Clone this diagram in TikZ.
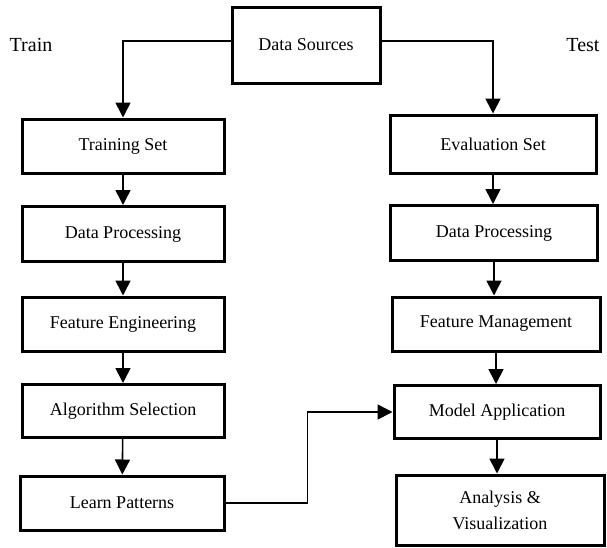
\documentclass[tikz,border=0pt]{standalone}
\usepackage{fontspec}
\setmainfont{Liberation Serif}
\usetikzlibrary{arrows.meta}

\tikzset{
  stage/.style={draw, line width=3pt, align=center, inner sep=2pt,
    font=\fontsize{18}{26}\selectfont},
  flow/.style={line width=1.6pt, -{Triangle[length=15pt,width=15pt]}},
  side/.style={font=\fontsize{20}{22}\selectfont},
}

\begin{document}
\begin{tikzpicture}[x=1pt,y=-1pt]
\useasboundingbox (0,0) rectangle (607,547);

% source and side labels
\node [stage, minimum width=148pt, minimum height=76pt] (src) at (306,45) {Data Sources};
\node [side] (train) at (31,45) {Train};
\node [side] (test) at (583,45) {Test};

% training column
\node [stage, minimum width=202pt, minimum height=54pt] (ts) at (123,146) {Training Set};
\node [stage, minimum width=202pt, minimum height=55pt] (dpl) at (123,234) {Data Processing};
\node [stage, minimum width=202pt, minimum height=54pt] (fe) at (123,324) {Feature Engineering};
\node [stage, minimum width=202pt, minimum height=53pt] (as) at (123,411) {Algorithm Selection};
\node [stage, minimum width=204pt, minimum height=54pt] (lp) at (122,503) {Learn Patterns};

% test column
\node [stage, minimum width=206pt, minimum height=58pt] (es) at (493,144) {Evaluation Set};
\node [stage, minimum width=207pt, minimum height=55pt] (dpr) at (494,233) {Data Processing};
\node [stage, minimum width=208pt, minimum height=54pt] (fm) at (496,324) {Feature Management};
\node [stage, minimum width=206pt, minimum height=53pt] (ma) at (497,412) {Model Application};
\node [stage, minimum width=208pt, minimum height=70pt] (av) at (500,510) {Analysis \&\\ Visualization};

\draw [flow] ([yshift=4pt]src.west) -| (ts.north);
\draw [flow] ([yshift=4pt]src.east) -| (es.north);

\draw [flow] (ts) -- (dpl);
\draw [flow] (dpl) -- (fe);
\draw [flow] (fe) -- (as);
\draw [flow] (as) -- (lp);

\draw [flow] (es) -- (es |- dpr.north);
\draw [flow] (dpr) -- (dpr |- fm.north);
\draw [flow] (fm) -- (fm |- ma.north);
\draw [flow] (ma) -- (ma |- av.north);

\draw [flow] (lp.east) -- ++(82,0) |- (ma.west);
\end{tikzpicture}
\end{document}
